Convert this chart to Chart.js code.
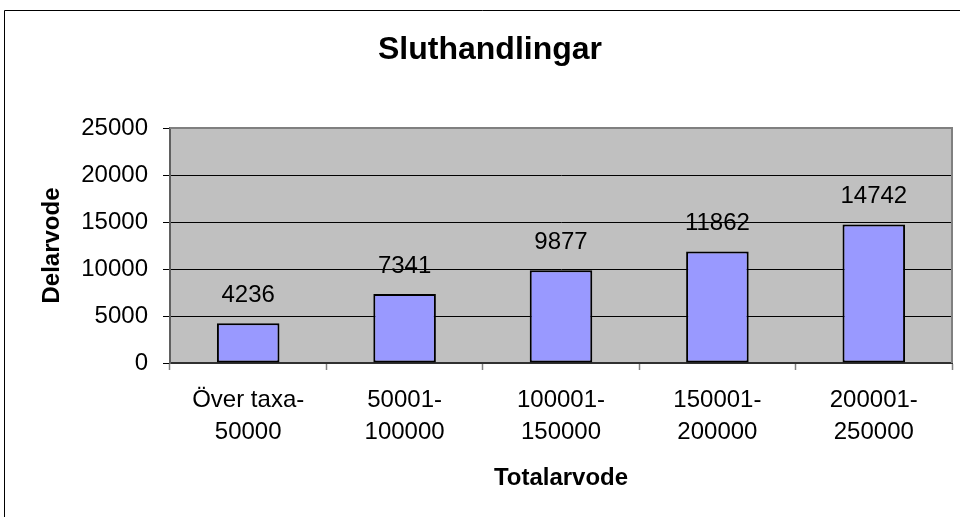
<!DOCTYPE html>
<html>
<head>
<meta charset="utf-8">
<script src="https://cdn.jsdelivr.net/npm/chart.js@4/dist/chart.umd.min.js"></script>
<style>
  html, body { margin: 0; padding: 0; background: #fff; }
  #c { display: block; }
</style>
</head>
<body>
<canvas id="c" width="960" height="517"></canvas>
<script>
const categories = [["Över taxa-", "50000"], ["50001-", "100000"], ["100001-", "150000"], ["150001-", "200000"], ["200001-", "250000"]];
const values = [4236, 7341, 9877, 11862, 14742];
const yTicks = [0, 5000, 10000, 15000, 20000, 25000];
const chartTitle = "Sluthandlingar";
const xTitle = "Totalarvode";
const yTitle = "Delarvode";

const FONT = "'Liberation Sans', Arial, sans-serif";

const framePlugin = {
  id: 'frame',
  beforeDraw(chart) {
    const ctx = chart.ctx;
    const a = chart.chartArea;
    ctx.save();
    ctx.fillStyle = '#fff';
    ctx.fillRect(0, 0, chart.width, chart.height);
    ctx.strokeStyle = '#000';
    ctx.lineWidth = 1;
    ctx.beginPath();
    ctx.moveTo(4.5, chart.height + 2);
    ctx.lineTo(4.5, 10.5);
    ctx.lineTo(chart.width + 2, 10.5);
    ctx.stroke();
    ctx.fillStyle = '#C0C0C0';
    ctx.fillRect(a.left, a.top, a.right - a.left, a.bottom - a.top);
    ctx.restore();
  },
  afterDraw(chart) {
    const ctx = chart.ctx;
    const a = chart.chartArea;
    ctx.save();
    ctx.strokeStyle = '#808080';
    ctx.lineWidth = 2;
    ctx.beginPath();
    ctx.moveTo(a.left, a.top);
    ctx.lineTo(a.right, a.top);
    ctx.lineTo(a.right, a.bottom);
    ctx.stroke();
    ctx.restore();
  }
};

const labelPlugin = {
  id: 'valueLabels',
  afterDatasetsDraw(chart) {
    const ctx = chart.ctx;
    const meta = chart.getDatasetMeta(0);
    ctx.save();
    ctx.font = '24px ' + FONT;
    ctx.fillStyle = '#000';
    ctx.textAlign = 'center';
    ctx.textBaseline = 'middle';
    meta.data.forEach((bar, i) => {
      ctx.fillText(String(values[i]), bar.x, bar.y - 28);
    });
    ctx.restore();
  }
};

new Chart(document.getElementById('c'), {
  type: 'bar',
  data: {
    labels: categories,
    datasets: [{
      data: values,
      backgroundColor: '#9999FF',
      borderColor: '#000',
      borderWidth: 2,
      borderSkipped: false,
      categoryPercentage: 1.0,
      barPercentage: 0.4
    }]
  },
  options: {
    responsive: false,
    devicePixelRatio: 1,
    animation: false,
    layout: { padding: { left: 28, right: 8, top: 0, bottom: 0 } },
    plugins: {
      legend: { display: false },
      tooltip: { enabled: false },
      title: {
        display: true,
        text: chartTitle,
        color: '#000',
        font: { family: FONT, size: 32, weight: 'bold', lineHeight: 1.2 },
        padding: { top: 31, bottom: 58.6 }
      }
    },
    scales: {
      x: {
        type: 'category',
        afterFit(scale) { scale.height = 154; },
        grid: {
          display: true,
          drawOnChartArea: false,
          drawTicks: true,
          tickLength: 7,
          tickColor: '#808080',
          tickWidth: 1.5,
          offset: true
        },
        border: { display: true, color: '#303030', width: 2 },
        ticks: {
          color: '#000',
          font: { family: FONT, size: 24, lineHeight: 1.333 },
          padding: 14,
          maxRotation: 0,
          minRotation: 0,
          autoSkip: false
        },
        title: {
          display: true,
          text: xTitle,
          color: '#000',
          font: { family: FONT, size: 24, weight: 'bold', lineHeight: 1.2 },
          padding: { top: 0, bottom: 24 }
        }
      },
      y: {
        min: 0,
        max: 25000,
        afterFit(scale) { scale.width = 142; },
        afterBuildTicks(scale) { scale.ticks = yTicks.map(v => ({ value: v })); },
        grid: {
          color: (c) => (c.tick && c.tick.value === 25000) ? '#808080' : '#000',
          lineWidth: 1,
          drawTicks: true,
          tickLength: 7,
          tickColor: '#000'
        },
        border: { display: true, color: '#606060', width: 2 },
        ticks: {
          color: '#000',
          font: { family: FONT, size: 24 },
          padding: 15,
          callback: (v) => String(v)
        },
        title: {
          display: true,
          text: yTitle,
          color: '#000',
          font: { family: FONT, size: 24, weight: 'bold', lineHeight: 1.2 },
          padding: { top: 10, bottom: 0 }
        }
      }
    }
  },
  plugins: [framePlugin, labelPlugin]
});
</script>
</body>
</html>
